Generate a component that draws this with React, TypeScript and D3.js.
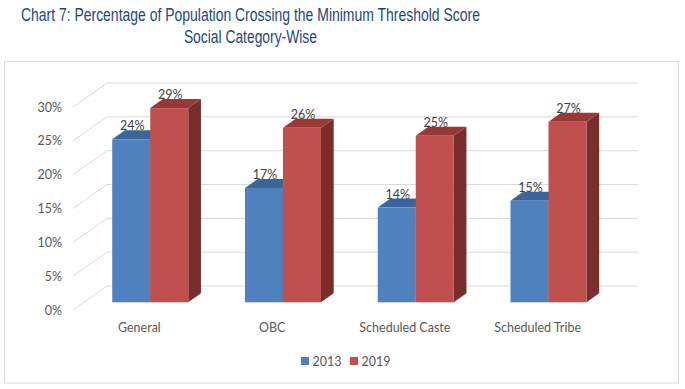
import React from "react";
import * as d3 from "d3";

const categories = ["General", "OBC", "Scheduled Caste", "Scheduled Tribe"];
const series2013 = [0.241, 0.169, 0.14, 0.15];
const series2019 = [0.287, 0.258, 0.246, 0.267];
const seriesNames = ["2013", "2019"];
const yTicks = [0, 0.05, 0.1, 0.15, 0.2, 0.25, 0.3];

const W = 685;
const H = 389;

const frontX0 = 73;
const frontX1 = 604;
const wallDX = 34;
const wallDY = -24;
const frontBase = 310;
const plotH = 203;
const barDepthFrac = 0.32;
const barDX = 12.7;
const barDY = -9;

const colors = {
  blue: { front: "#4f81bd", top: "#3b6598", side: "#2f527d" },
  red: { front: "#c0504d", top: "#973a37", side: "#7a2e2c" },
};

export default function App() {
  const yFront = d3.scaleLinear().domain([0, 0.3]).range([frontBase, frontBase - plotH]);
  const yBack = (v: number) => yFront(v) + wallDY;
  const offX = wallDX * barDepthFrac;
  const offY = wallDY * barDepthFrac;
  const yBar = d3
    .scaleLinear()
    .domain([0, 0.3])
    .range([frontBase + offY, frontBase + offY - plotH]);

  const xFront = d3.scaleBand<string>().domain(categories).range([frontX0, frontX1]);
  const xBar = d3.scaleBand<string>().domain(categories).range([frontX0 + offX, frontX1 + offX]);
  const barW = 38;
  const inner = d3.scaleBand<string>().domain(seriesNames).range([0, barW * 2]);
  const fmt = d3.format(".0%");

  const bars: React.ReactNode[] = [];
  categories.forEach((c, i) => {
    const g0 = xBar(c)! + (xBar.bandwidth() - barW * 2) / 2;
    [
      { name: "2013", v: series2013[i], col: colors.blue },
      { name: "2019", v: series2019[i], col: colors.red },
    ].forEach((s) => {
      const x0 = g0 + inner(s.name)!;
      const x1 = x0 + inner.bandwidth();
      const yT = yBar(s.v);
      const yB = yBar(0);
      bars.push(
        <g key={c + s.name}>
          <polygon
            points={`${x1},${yB} ${x1 + barDX},${yB + barDY} ${x1 + barDX},${yT + barDY} ${x1},${yT}`}
            fill={s.col.side}
          />
          <polygon
            points={`${x0},${yT} ${x1},${yT} ${x1 + barDX},${yT + barDY} ${x0 + barDX},${yT + barDY}`}
            fill={s.col.top}
          />
          <rect x={x0} y={yT} width={x1 - x0} height={yB - yT} fill={s.col.front} />
          <text
            x={(x0 + x1) / 2 + 1}
            y={yT - 9}
            textAnchor="middle"
            fontSize={12.5}
            fill="#404040"
            fontFamily="Lato, 'Open Sans', sans-serif"
          >
            {fmt(s.v)}
          </text>
        </g>
      );
    });
  });

  return (
    <svg width={W} height={H} style={{ position: "absolute", left: 0, top: 0 }}>
      <rect x={0} y={0} width={W} height={H} fill="#ffffff" />
      <text
        x={250.4}
        y={21}
        textAnchor="middle"
        fontSize={17.5}
        fill="#1f477a"
        fontFamily="'Liberation Sans', Arial, sans-serif"
        textLength={459}
        lengthAdjust="spacingAndGlyphs"
      >
        Chart 7: Percentage of Population Crossing the Minimum Threshold Score
      </text>
      <text
        x={250.4}
        y={43}
        textAnchor="middle"
        fontSize={17.5}
        fill="#1f477a"
        fontFamily="'Liberation Sans', Arial, sans-serif"
        textLength={133}
        lengthAdjust="spacingAndGlyphs"
      >
        Social Category-Wise
      </text>
      <rect x={4.5} y={61.5} width={674} height={321.5} fill="none" stroke="#d9d9d9" strokeWidth={1} />

      {yTicks.map((t) => (
        <g key={t}>
          <line
            x1={frontX0}
            y1={yFront(t)}
            x2={frontX0 + wallDX}
            y2={yBack(t)}
            stroke="#d9d9d9"
            strokeWidth={1}
          />
          <line
            x1={frontX0 + wallDX}
            y1={yBack(t)}
            x2={frontX1 + wallDX}
            y2={yBack(t)}
            stroke="#d9d9d9"
            strokeWidth={1}
          />
          <text
            x={62}
            y={yFront(t) + 4.5}
            textAnchor="end"
            fontSize={12.5}
            fill="#595959"
            fontFamily="Lato, 'Open Sans', sans-serif"
          >
            {fmt(t)}
          </text>
        </g>
      ))}

      {bars}

      {categories.map((c) => (
        <text
          key={c}
          x={xFront(c)! + xFront.bandwidth() / 2}
          y={332}
          textAnchor="middle"
          fontSize={12.5}
          fill="#595959"
          fontFamily="Lato, 'Open Sans', sans-serif"
        >
          {c}
        </text>
      ))}

      {seriesNames.map((n, i) => (
        <g key={n}>
          <rect x={301 + i * 49} y={357} width={8} height={8} fill={i === 0 ? colors.blue.front : colors.red.front} />
          <text
            x={312.5 + i * 49}
            y={365.5}
            fontSize={12.5}
            fill="#595959"
            fontFamily="Lato, 'Open Sans', sans-serif"
          >
            {n}
          </text>
        </g>
      ))}
    </svg>
  );
}
